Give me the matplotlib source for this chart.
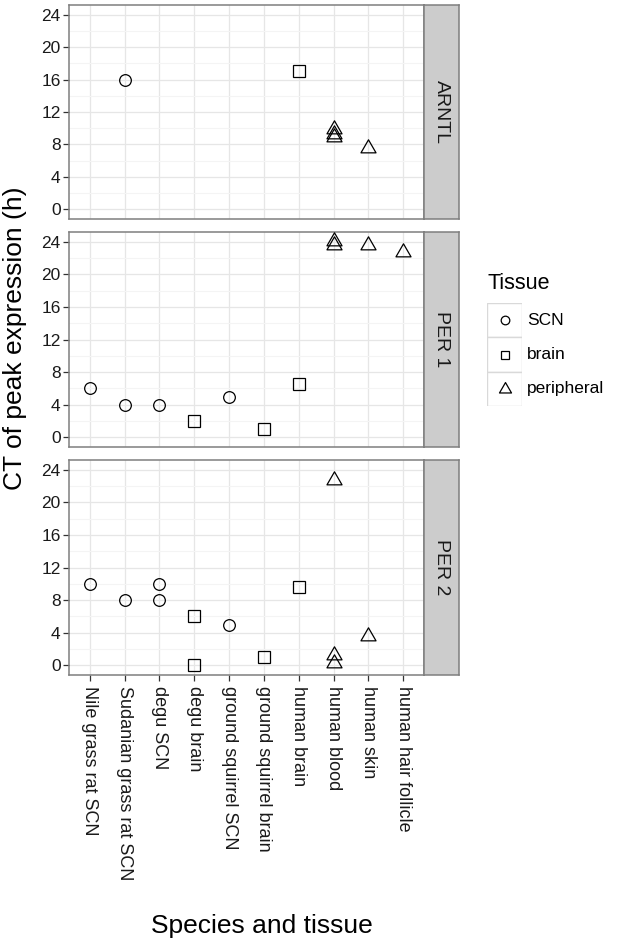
import matplotlib
matplotlib.use("Agg")
import matplotlib.pyplot as plt
from matplotlib.patches import Rectangle
from matplotlib.path import Path
import numpy as np

plt.rcParams['font.family'] = ['Liberation Sans', 'DejaVu Sans']

categories = ["Nile grass rat SCN", "Sudanian grass rat SCN", "degu SCN", "degu brain",
              "ground squirrel SCN", "ground squirrel brain", "human brain", "human blood",
              "human skin", "human hair follicle"]
category_tissue = ["SCN", "SCN", "SCN", "brain", "SCN", "brain", "brain",
                   "peripheral", "peripheral", "peripheral"]

genes = ["ARNTL", "PER1", "PER2"]
strip_labels = ["ARNTL", "PER 1", "PER 2"]

arntl_cat = ["Sudanian grass rat SCN", "human brain", "human blood", "human blood",
             "human blood", "human skin"]
arntl_ct = [16.0, 17.1, 9.9, 9.3, 8.9, 7.5]

per1_cat = ["Nile grass rat SCN", "Sudanian grass rat SCN", "degu SCN", "degu brain",
            "ground squirrel SCN", "ground squirrel brain", "human brain", "human blood",
            "human blood", "human skin", "human hair follicle"]
per1_ct = [6.0, 4.0, 4.0, 2.0, 5.0, 1.0, 6.5, 24.1, 23.6, 23.6, 22.8]

per2_cat = ["Nile grass rat SCN", "Sudanian grass rat SCN", "degu SCN", "degu SCN",
            "degu brain", "degu brain", "ground squirrel SCN", "ground squirrel brain",
            "human brain", "human blood", "human blood", "human blood", "human skin"]
per2_ct = [10.0, 8.0, 10.0, 8.0, 6.0, 0.0, 5.0, 1.0, 9.6, 22.8, 1.2, 0.3, 3.6]

yticks = [0, 4, 8, 12, 16, 20, 24]
tissues = ["SCN", "brain", "peripheral"]

tri = Path([(0, 0.577), (-0.5, -0.289), (0.5, -0.289), (0, 0.577)], closed=True)
marker_map = {"SCN": ("o", 8.4), "brain": ("s", 8.2), "peripheral": (tri, 12.5)}

W, H = 620, 942
fig = plt.figure(figsize=(W / 100, H / 100), dpi=100)

def fx(px):
    return px / W

def fy(py):
    return 1 - py / H

panel_left, panel_right = 69, 424
strip_right = 459
panel_rows = [(5, 219), (232, 447), (460, 675)]
data = [(arntl_cat, arntl_ct), (per1_cat, per1_ct), (per2_cat, per2_ct)]

border = "#7f7f7f"
txt = "#1a1a1a"

for i, ((top, bot), (cats, vals)) in enumerate(zip(panel_rows, data)):
    ax = fig.add_axes([fx(panel_left), fy(bot), fx(panel_right - panel_left), (bot - top) / H])
    ax.set_xlim(0.4, len(categories) + 0.6)
    ax.set_ylim(-1.2, 25.2)
    ax.set_yticks(yticks)
    ax.set_yticks([2, 6, 10, 14, 18, 22], minor=True)
    ax.set_xticks(np.arange(1, len(categories) + 1))
    ax.grid(True, which="major", color="#e6e6e6", lw=0.9, zorder=0)
    ax.grid(True, which="minor", axis="y", color="#f4f4f4", lw=0.8, zorder=0)
    ax.set_axisbelow(True)
    for sp in ax.spines.values():
        sp.set_color(border)
        sp.set_linewidth(1.1)
    ax.tick_params(axis="y", which="major", length=4, width=0.9, color="#333333",
                   labelsize=12.5, labelcolor=txt, pad=2)
    ax.tick_params(axis="y", which="minor", length=0)
    if i == 2:
        ax.set_xticklabels(categories, rotation=270, ha="center", va="top",
                           fontsize=13, color=txt)
        ax.tick_params(axis="x", length=4, width=0.9, color="#333333", pad=4)
    else:
        ax.tick_params(axis="x", length=0, labelbottom=False)
    xs = np.array([categories.index(c) + 1 for c in cats])
    ts = np.array([category_tissue[categories.index(c)] for c in cats])
    vals = np.array(vals)
    for t in tissues:
        m = ts == t
        if m.any():
            mk, ms = marker_map[t]
            ax.plot(xs[m], vals[m], linestyle="none", marker=mk, ms=ms,
                    mfc="none", mec="black", mew=0.9, zorder=3, clip_on=False)

    sax = fig.add_axes([fx(panel_right), fy(bot), fx(strip_right - panel_right), (bot - top) / H])
    sax.set_facecolor("#cccccc")
    sax.set_xticks([])
    sax.set_yticks([])
    for sp in sax.spines.values():
        sp.set_color(border)
        sp.set_linewidth(1.1)
    sax.text(0.5, 0.5, strip_labels[i], rotation=270, ha="center", va="center",
             fontsize=14, color="#1a1a1a", transform=sax.transAxes)

# axis titles
fig.text(fx(262), fy(933), "Species and tissue", ha="center", va="baseline",
         fontsize=19, color="black")
fig.text(fx(3), fy(338), "CT of peak expression (h)", rotation=90, ha="left",
         va="center", fontsize=19, color="black")

# legend
fig.text(fx(488), fy(289), "Tissue", ha="left", va="baseline", fontsize=15.5, color="black")
lax = fig.add_axes([fx(487), fy(406), fx(35), 103 / H])
lax.set_xlim(0, 1)
lax.set_ylim(0, 3)
lax.axis("off")
leg_ms = {"SCN": 6.2, "brain": 6.0, "peripheral": 10.0}
for k, t in enumerate(tissues):
    y0 = 2 - k
    lax.add_patch(Rectangle((0, y0), 1, 1, facecolor="white", edgecolor="#d9d9d9", lw=1.0))
    mk, _ = marker_map[t]
    lax.plot([0.5], [y0 + 0.5], linestyle="none", marker=mk, ms=leg_ms[t],
             mfc="none", mec="black", mew=0.9)
    lax.text(1.15, y0 + 0.5, t, ha="left", va="center", fontsize=12.5, color="black")

fig.savefig("out.png", dpi=100)
